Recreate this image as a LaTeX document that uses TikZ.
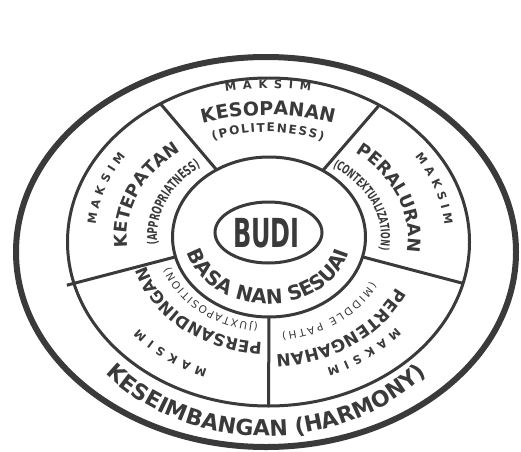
\documentclass[tikz,border=0pt]{standalone}
\usepackage{fontspec}
\setmainfont{DejaVu Sans}
\newfontfamily\condfont[FakeStretch=0.63]{DejaVu Sans}
\newfontfamily\budifont[FakeStretch=0.6]{DejaVu Sans}
\usetikzlibrary{shapes.geometric,calc}
\definecolor{ink}{RGB}{58,58,58}
\newcommand\fs[1]{\fontsize{#1}{#1}\selectfont}
\makeatletter
\newdimen\rtdim
\newcommand\rtmeasure[1]{\setbox\@tempboxa=\hbox{\pgfinterruptpicture#1\endpgfinterruptpicture}\rtdim=\wd\@tempboxa\xdef\rtw{\strip@pt\rtdim}}
\makeatother
% #1 centre, #2 rx, #3 ry, #4 mid angle, #5 direction (+1 ccw, -1 cw), #6 font, #7 letter spacing, #8 characters
\newcommand\ringtext[8]{%
  \gdef\rtW{0}%
  \foreach \ch in {#8}{%
    \rtmeasure{\normalfont#6\ch}%
    \pgfmathsetmacro\rtTmp{\rtW+\rtw+#7}%
    \xdef\rtW{\rtTmp}%
  }%
  \pgfmathsetmacro\rtHalf{(\rtW-#7)/2}%
  \pgfmathtruncatemacro\rtN{max(1,ceil(\rtHalf/3))}%
  \xdef\rtT{#4}%
  \foreach \k in {1,...,\rtN}{%
    \pgfmathsetmacro\rtS{100*sqrt((#2/100*sin(\rtT))^2+(#3/100*cos(\rtT))^2)}%
    \pgfmathsetmacro\rtTmp{\rtT-(#5)*(\rtHalf/\rtN)/\rtS*180/pi}%
    \xdef\rtT{\rtTmp}%
  }%
  \foreach \ch in {#8}{%
    \rtmeasure{\normalfont#6\ch}%
    \pgfmathsetmacro\rtS{100*sqrt((#2/100*sin(\rtT))^2+(#3/100*cos(\rtT))^2)}%
    \pgfmathsetmacro\rtC{\rtT+(#5)*(\rtw/2)/\rtS*180/pi}%
    \pgfmathsetmacro\rtR{atan2((#5)*#3*cos(\rtC),-(#5)*#2*sin(\rtC))}%
    \node[anchor=base,inner sep=0pt,outer sep=0pt,rotate=\rtR,text=ink,font={\normalfont#6}] at ([shift={(\rtC:#2pt and #3pt)}]#1) {\ch};%
    \pgfmathsetmacro\rtS{100*sqrt((#2/100*sin(\rtC))^2+(#3/100*cos(\rtC))^2)}%
    \pgfmathsetmacro\rtTmp{\rtC+(#5)*(\rtw/2+#7)/\rtS*180/pi}%
    \xdef\rtT{\rtTmp}%
  }%
}
\tikzset{
  ring/.style={ellipse,draw=ink,inner sep=0pt,outer sep=0pt,line width=3pt},
  divider/.style={draw=ink,line width=3pt}
}
\begin{document}
\begin{tikzpicture}[x=1pt,y=1pt]
\useasboundingbox (0,0) rectangle (521,451);
\fill[white] (0,0) rectangle (521,451);
% rings
\node[ring,line width=6pt,minimum width=500pt,minimum height=390pt] (outer) at (266,199) {};
\node[ring,minimum width=402pt,minimum height=328pt] (mid) at (268.5,209) {};
\node[ring,minimum width=193pt,minimum height=160pt] (inn) at (269,214) {};
\node[ring,minimum width=107pt,minimum height=61pt] (budi) at (268.5,218.5) {};
% dividers
\draw[divider] (inn.128) -- (mid.128);
\draw[divider] (inn.51) -- (mid.51);
\draw[divider] (inn.348) -- (mid.348);
\draw[divider] (inn.270) -- (mid.270);
\draw[divider] (inn.192) -- ($(inn.192)!1.07!(mid.192)$);
% centre
\node[anchor=base,inner sep=0pt,text=ink,font={\budifont\bfseries\fs{40}}] (budiT) at (266.5,204) {BUDI};
\coordinate (CT) at (268,214);
\coordinate (CO) at (266,199);
% top segment
\ringtext{CT}{210}{149}{90}{-1}{\fs{11.5}\bfseries}{6.5}{M,A,K,S,I,M}
\ringtext{CT}{180}{122}{90}{-1}{\fs{19}\bfseries}{0}{K,E,S,O,P,A,N,A,N}
\ringtext{CT}{138}{105}{90}{-1}{\fs{12}\bfseries}{1.6}{{(},P,O,L,I,T,E,N,E,S,S,{)}}
% left segment
\ringtext{CT}{173}{142}{160}{-1}{\fs{11.5}\bfseries}{4.5}{M,A,K,S,I,M}
\ringtext{CT}{141}{108.9}{155.5}{-1}{\fs{17.5}\bfseries}{0}{K,E,T,E,P,A,T,A,N}
\ringtext{CT}{111}{88.3}{155}{-1}{\condfont\fs{13.5}\bfseries}{0}{{(},A,P,P,R,O,P,R,I,A,T,N,E,S,S,{)}}
% right segment
\ringtext{CT}{177}{143.3}{19.6}{-1}{\fs{11.5}\bfseries}{4.5}{M,A,K,S,I,M}
\ringtext{CT}{140}{107.8}{23}{-1}{\fs{17.5}\bfseries}{0}{P,E,R,A,L,U,R,A,N}
\ringtext{CT}{113}{85}{25}{-1}{\condfont\fs{12.5}\bfseries}{0}{{(},C,O,N,T,E,X,T,U,A,L,I,Z,A,T,I,O,N,{)}}
% bottom-left segment
\ringtext{CT}{169.8}{141.5}{235}{-1}{\fs{11.5}\bfseries}{5.5}{M,A,K,S,I,M}
\ringtext{CT}{126.4}{105.3}{233}{-1}{\fs{16.5}\bfseries}{0}{P,E,R,S,A,N,D,I,N,G,A,N}
\ringtext{CT}{104.7}{87.3}{233.5}{-1}{\fs{10.5}}{1.5}{{(},J,U,X,T,A,P,O,S,I,T,I,O,N,{)}}
% bottom-right segment
\ringtext{CT}{167.6}{139.7}{305}{-1}{\fs{11.5}\bfseries}{5.5}{M,A,K,S,I,M}
\ringtext{CT}{141.7}{118.1}{303}{-1}{\fs{17}\bfseries}{0}{P,E,R,T,E,N,G,A,H,A,N}
\ringtext{CT}{116}{96.7}{304}{-1}{\fs{10.5}}{2.2}{{(},M,I,D,D,L,E,{\ },P,A,T,H,{)}}
% inner and outer ring labels
\ringtext{CT}{83}{67}{270}{1}{\fs{20}\bfseries}{0}{B,A,S,A,{\ },N,A,N,{\ },S,E,S,U,A,I}
\ringtext{CO}{214}{184}{270}{1}{\fs{22}\bfseries}{0}{K,E,S,E,I,M,B,A,N,G,A,N,{\ },{(},H,A,R,M,O,N,Y,{)}}
\end{tikzpicture}
\end{document}
